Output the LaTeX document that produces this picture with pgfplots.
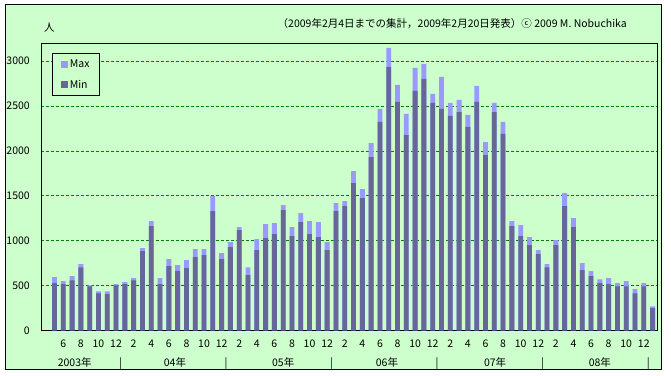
\documentclass[border=0pt]{standalone}
\usepackage{fontspec}
\setmainfont{Noto Sans CJK JP}
\newfontfamily\dejavu{DejaVu Sans}
\usepackage{pgfplots}
\pgfplotsset{compat=1.18}
\usepackage{pgfplotstable}
\definecolor{bggreen}{HTML}{CCFFCC}
\definecolor{maxc}{HTML}{9999FF}
\definecolor{minc}{HTML}{666699}
\definecolor{gridc}{HTML}{008000}

\newcommand\copyc{\iffontchar\font"24D2 ⓒ\else{\dejavu\iffontchar\font"24D2 ⓒ\else\tikz[baseline=-0.45ex]{\draw[line width=0.7pt] (0,0) circle (4.2pt); \node[inner sep=0pt, font=\fontsize{7.5}{8}\selectfont] at (0,0.2pt) {c};}\fi}\fi}

\pgfplotstableread{
x max min
1 592 525
2 547 514
3 603 558
4 737 703
5 502 491
6 435 413
7 435 402
8 514 502
9 536 514
10 581 558
11 916 882
12 1217 1161
13 581 514
14 793 715
15 726 659
16 782 692
17 904 815
18 904 837
19 1500 1329
20 860 793
21 983 927
22 1150 1117
23 703 614
24 1016 893
25 1184 1027
26 1195 1072
27 1396 1340
28 1150 1050
29 1306 1206
30 1217 1072
31 1206 1038
32 983 893
33 1418 1329
34 1440 1385
35 1775 1641
36 1574 1474
37 2088 1932
38 2468 2323
39 3149 2937
40 2736 2546
41 2412 2177
42 2925 2669
43 2970 2803
44 2635 2535
45 2825 2468
46 2535 2390
47 2568 2434
48 2401 2267
49 2725 2546
50 2099 1954
51 2535 2434
52 2323 2189
53 1217 1161
54 1172 1050
55 1038 949
56 893 849
57 737 703
58 1005 949
59 1530 1385
60 1251 1150
61 748 670
62 659 603
63 569 525
64 581 514
65 525 491
66 547 491
67 458 413
68 525 491
69 268 246
}\datatable

\begin{document}
\begin{tikzpicture}[font=\fontsize{10.5}{12}\selectfont]
\fill[white] (0,0) rectangle (671pt,375pt);
\useasboundingbox (0,0) rectangle (671pt,375pt);
\draw[line width=1pt, fill=bggreen] (5.3pt,5.3pt) rectangle (661.7pt,370pt);
\node[anchor=base east, inner sep=0pt] at (627pt,347.7pt)
  {（2009年2月4日までの集計，2009年2月20日発表）\copyc\ 2009 M. Nobuchika};
\node[anchor=center, inner sep=0pt] at (49.3pt,347.5pt) {人};
\begin{axis}[
  at={(41.3pt,44.7pt)}, anchor=south west,
  scale only axis, width=615.7pt, height=287pt,
  axis background/.style={fill=bggreen},
  axis line style={line width=1pt},
  ybar, bar width=0.55,
  xmin=-0.5, xmax=69.5,
  ymin=0, ymax=3200,
  ytick={0,500,...,3000},
  xtick={2,4,...,68},
  xticklabels={6,8,10,12,2,4,6,8,10,12,2,4,6,8,10,12,2,4,6,8,10,12,2,4,6,8,10,12,2,4,6,8,10,12},
  major tick length=0pt,
  ymajorgrids,
  grid style={color=gridc, dash pattern=on 3pt off 2pt, line width=0.8pt},
  yticklabel style={anchor=east, inner sep=0pt, xshift=-11.3pt},
  xticklabel style={anchor=base, inner sep=0pt, yshift=-17pt},
  /pgf/number format/assume math mode=true,
  /pgf/number format/1000 sep={},
  scaled y ticks=false,
  legend image code/.code={\fill[#1] (0pt,-3.5pt) rectangle (7pt,3.5pt);},
  legend style={at={(0.0179,0.965)}, anchor=north west, draw=black, line width=1pt,
    fill=bggreen, inner xsep=8pt, inner ysep=4pt, row sep=7pt,
    nodes={inner sep=2pt}},
  legend cell align=left,
  clip=false,
]
\addplot[fill=maxc, draw=none, bar shift=0pt] table[x=x, y=max] {\datatable};
\addlegendentry{Max}
\addplot[fill=minc, draw=none, bar shift=0pt] table[x=x, y=min] {\datatable};
\addlegendentry{Min}
\foreach \p/\t in {3.3/2003年, 14.7/04年, 27.0/05年, 38.8/06年, 51.1/07年, 63.0/08年}{
  \edef\tmp{\noexpand\node[anchor=base, inner sep=0pt, yshift=-35.7pt] at (axis cs:\p,0) {\t};}
  \tmp
}
\foreach \p in {8.5,20.5,32.5,44.5,56.5,68.5}{
  \edef\tmp{\noexpand\node[anchor=base, inner sep=0pt, yshift=-35.7pt] at (axis cs:\p,0) {|};}
  \tmp
}
\end{axis}
\end{tikzpicture}
\end{document}
